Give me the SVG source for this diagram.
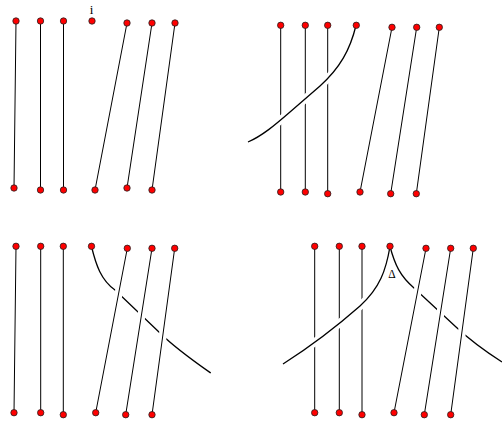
<svg xmlns="http://www.w3.org/2000/svg" width="502" height="421" viewBox="0 0 502 421">
<style>
.s{stroke:#000;stroke-width:1;fill:none}
.c{stroke:#000;stroke-width:1.3;fill:none}
.h{stroke:#fff;stroke-width:8;fill:none}
.d{fill:#f00;stroke:#222;stroke-width:0.8}
.t{font-family:"Liberation Serif",serif;fill:#000}
</style>
<rect width="502" height="421" fill="#fff"/>
<g id="connectors">
<!-- panel 1 -->
<line class="s" x1="16" y1="21" x2="14" y2="188"/>
<line class="s" x1="40.5" y1="21" x2="40.5" y2="190"/>
<line class="s" x1="63.5" y1="21" x2="63.5" y2="190"/>
<line class="s" x1="127" y1="23" x2="95" y2="190"/>
<line class="s" x1="152" y1="23" x2="127" y2="188"/>
<line class="s" x1="175" y1="23" x2="152" y2="190"/>
<!-- panel 2 -->
<line class="s" x1="280.7" y1="25.3" x2="280.7" y2="192"/>
<line class="s" x1="305.3" y1="25.3" x2="305.3" y2="192"/>
<line class="s" x1="327.7" y1="25.3" x2="327.7" y2="193.7"/>
<path class="h" d="M356,25.5 C350,50 340,68 320,86 L290,112 C275,125 262,136 248,142"/>
<path class="c" d="M356,25.5 C350,50 340,68 320,86 L290,112 C275,125 262,136 248,142"/>
<line class="s" x1="392" y1="27.3" x2="360" y2="192"/>
<line class="s" x1="416.7" y1="27.3" x2="390.7" y2="193.7"/>
<line class="s" x1="439.3" y1="27.3" x2="416.3" y2="193.7"/>
<!-- panel 3 -->
<line class="s" x1="16" y1="246.3" x2="14" y2="412.7"/>
<line class="s" x1="40.7" y1="246.3" x2="40.7" y2="412.7"/>
<line class="s" x1="63.3" y1="246.3" x2="63.3" y2="414.7"/>
<path class="c" d="M91.5,246.5 C96,265 101,280 115,290 L160,333 C175,348 195,362 210.7,373"/>
<line class="h" x1="127.3" y1="248.3" x2="95.7" y2="412.7"/>
<line class="s" x1="127.3" y1="248.3" x2="95.7" y2="412.7"/>
<line class="h" x1="152" y1="248.3" x2="125.7" y2="414.7"/>
<line class="s" x1="152" y1="248.3" x2="125.7" y2="414.7"/>
<line class="h" x1="174.7" y1="248.3" x2="152" y2="414.7"/>
<line class="s" x1="174.7" y1="248.3" x2="152" y2="414.7"/>
<!-- panel 4 -->
<line class="s" x1="314.7" y1="246.3" x2="314.7" y2="412.7"/>
<line class="s" x1="339.3" y1="246.3" x2="339.3" y2="412.7"/>
<line class="s" x1="362" y1="246.3" x2="362" y2="414.7"/>
<path class="h" d="M390,246.5 C386,270 380,288 360,306 C335,328 305,350 283,364"/>
<path class="c" d="M390,246.5 C386,270 380,288 360,306 C335,328 305,350 283,364"/>
<path class="c" d="M390,246.5 C395,265 400,276 414,288 L456,327 C472,342 488,353 502,362"/>
<line class="h" x1="426" y1="248.3" x2="394" y2="412.7"/>
<line class="s" x1="426" y1="248.3" x2="394" y2="412.7"/>
<line class="h" x1="450.7" y1="248.3" x2="424.3" y2="414.7"/>
<line class="s" x1="450.7" y1="248.3" x2="424.3" y2="414.7"/>
<line class="h" x1="473.3" y1="248.3" x2="450.7" y2="414.7"/>
<line class="s" x1="473.3" y1="248.3" x2="450.7" y2="414.7"/>
</g>
<g id="panel1-nodes">
<circle class="d" cx="16" cy="21" r="3.2"/>
<circle class="d" cx="40.5" cy="21" r="3.2"/>
<circle class="d" cx="63.5" cy="21" r="3.2"/>
<circle class="d" cx="92" cy="21" r="3.2"/>
<circle class="d" cx="127" cy="23" r="3.2"/>
<circle class="d" cx="152" cy="23" r="3.2"/>
<circle class="d" cx="175" cy="23" r="3.2"/>
<circle class="d" cx="14" cy="188" r="3.2"/>
<circle class="d" cx="40.5" cy="190" r="3.2"/>
<circle class="d" cx="63.5" cy="190" r="3.2"/>
<circle class="d" cx="95" cy="190" r="3.2"/>
<circle class="d" cx="127" cy="188" r="3.2"/>
<circle class="d" cx="152" cy="190" r="3.2"/>
<text class="t" x="91.5" y="14" font-size="13" text-anchor="middle">i</text>
</g>
<g id="panel2-nodes">
<circle class="d" cx="280.7" cy="25.3" r="3.2"/>
<circle class="d" cx="305.3" cy="25.3" r="3.2"/>
<circle class="d" cx="327.7" cy="25.3" r="3.2"/>
<circle class="d" cx="356.3" cy="25.3" r="3.2"/>
<circle class="d" cx="392" cy="27.3" r="3.2"/>
<circle class="d" cx="416.7" cy="27.3" r="3.2"/>
<circle class="d" cx="439.3" cy="27.3" r="3.2"/>
<circle class="d" cx="280.7" cy="192" r="3.2"/>
<circle class="d" cx="305.3" cy="192" r="3.2"/>
<circle class="d" cx="327.7" cy="193.7" r="3.2"/>
<circle class="d" cx="360" cy="192" r="3.2"/>
<circle class="d" cx="390.7" cy="193.7" r="3.2"/>
<circle class="d" cx="416.3" cy="193.7" r="3.2"/>
</g>
<g id="panel3-nodes">
<circle class="d" cx="16" cy="246.3" r="3.2"/>
<circle class="d" cx="40.7" cy="246.3" r="3.2"/>
<circle class="d" cx="63.3" cy="246.3" r="3.2"/>
<circle class="d" cx="91.5" cy="246.3" r="3.2"/>
<circle class="d" cx="127.3" cy="248.3" r="3.2"/>
<circle class="d" cx="152" cy="248.3" r="3.2"/>
<circle class="d" cx="174.7" cy="248.3" r="3.2"/>
<circle class="d" cx="14" cy="412.7" r="3.2"/>
<circle class="d" cx="40.7" cy="412.7" r="3.2"/>
<circle class="d" cx="63.3" cy="414.7" r="3.2"/>
<circle class="d" cx="95.7" cy="412.7" r="3.2"/>
<circle class="d" cx="125.7" cy="414.7" r="3.2"/>
<circle class="d" cx="152" cy="414.7" r="3.2"/>
</g>
<g id="panel4-nodes">
<circle class="d" cx="314.7" cy="246.3" r="3.2"/>
<circle class="d" cx="339.3" cy="246.3" r="3.2"/>
<circle class="d" cx="362" cy="246.3" r="3.2"/>
<circle class="d" cx="390" cy="246.3" r="3.2"/>
<circle class="d" cx="426" cy="248.3" r="3.2"/>
<circle class="d" cx="450.7" cy="248.3" r="3.2"/>
<circle class="d" cx="473.3" cy="248.3" r="3.2"/>
<circle class="d" cx="314.7" cy="412.7" r="3.2"/>
<circle class="d" cx="339.3" cy="412.7" r="3.2"/>
<circle class="d" cx="362" cy="414.7" r="3.2"/>
<circle class="d" cx="394" cy="412.7" r="3.2"/>
<circle class="d" cx="424.3" cy="414.7" r="3.2"/>
<circle class="d" cx="450.7" cy="414.7" r="3.2"/>
<text class="t" x="392" y="277.5" font-size="11.5" text-anchor="middle">Δ</text>
</g>
</svg>
